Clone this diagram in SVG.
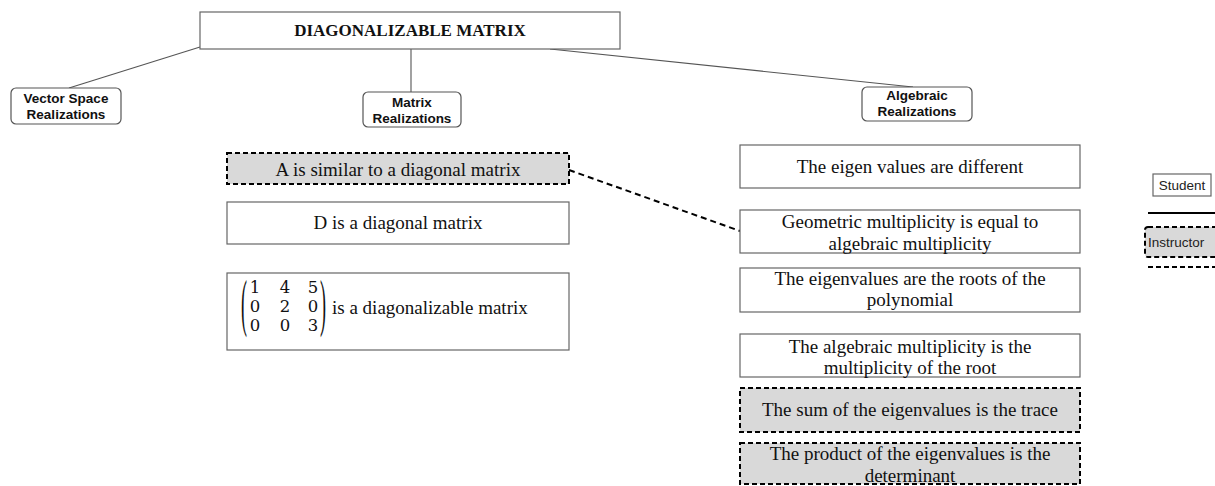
<svg xmlns="http://www.w3.org/2000/svg" width="1215" height="486" viewBox="0 0 1215 486">
<style>
.box{fill:#fff;stroke:#666;stroke-width:1.2}
.rbox{fill:#fff;stroke:#555;stroke-width:1.2}
.inst{fill:#d9d9d9;stroke:#000;stroke-width:2;stroke-dasharray:5 3}
.conn{stroke:#555;stroke-width:1.1;fill:none}
.dconn{stroke:#000;stroke-width:2;stroke-dasharray:6 4;fill:none}
.title{font-family:"Liberation Serif",serif;font-size:17px;font-weight:bold;fill:#111}
.lab{font-family:"Liberation Sans",Arial,sans-serif;font-size:13.5px;font-weight:bold;fill:#111;text-anchor:middle}
.t{font-family:"Liberation Serif","Times New Roman",serif;font-size:19px;fill:#111;text-anchor:middle}
.m{font-family:"DejaVu Serif","Liberation Serif",serif;font-size:16.5px;fill:#111;text-anchor:middle}
.p{font-family:"Liberation Serif",serif;font-size:18px;fill:#111}
.leg{font-family:"Liberation Sans",Arial,sans-serif;font-size:13.5px;fill:#222}
</style>
<rect width="1215" height="486" fill="#fff"/>
<g id="connectors">
<line class="conn" x1="200" y1="47" x2="69" y2="88"/>
<line class="conn" x1="411" y1="49" x2="411" y2="92"/>
<line class="conn" x1="550" y1="49" x2="913" y2="87"/>
<line class="dconn" x1="569" y1="170" x2="740" y2="231"/>
</g>
<g id="title">
<rect class="box" x="200" y="12" width="420" height="37"/>
<text class="title" x="410" y="36" text-anchor="middle">DIAGONALIZABLE MATRIX</text>
</g>
<g id="vector">
<rect class="rbox" x="11" y="88" width="110" height="36" rx="5"/>
<text class="lab" x="66" y="103">Vector Space</text>
<text class="lab" x="66" y="119">Realizations</text>
</g>
<g id="matrixreal">
<rect class="rbox" x="363" y="92" width="98" height="35" rx="5"/>
<text class="lab" x="412" y="107">Matrix</text>
<text class="lab" x="412" y="123">Realizations</text>
</g>
<g id="algreal">
<rect class="rbox" x="862" y="87" width="110" height="34" rx="5"/>
<text class="lab" x="917" y="100">Algebraic</text>
<text class="lab" x="917" y="116">Realizations</text>
</g>
<g id="similar">
<rect class="inst" x="227" y="153" width="342" height="31"/>
<text class="t" x="398" y="176">A is similar to a diagonal matrix</text>
</g>
<g id="diag">
<rect class="box" x="227" y="202" width="342" height="42"/>
<text class="t" x="398" y="229">D is a diagonal matrix</text>
</g>
<g id="example">
<rect class="box" x="227" y="273" width="342" height="77"/>
<text class="p" transform="translate(241,324) scale(1,3.5)">(</text>
<text class="p" transform="translate(320,324) scale(1,3.5)">)</text>
<text class="m" x="255" y="293">1</text>
<text class="m" x="285" y="293">4</text>
<text class="m" x="313" y="293">5</text>
<text class="m" x="255" y="312">0</text>
<text class="m" x="285" y="312">2</text>
<text class="m" x="313" y="312">0</text>
<text class="m" x="255" y="331">0</text>
<text class="m" x="285" y="331">0</text>
<text class="m" x="313" y="331">3</text>
<text class="t" x="332" y="314" style="text-anchor:start">is a diagonalizable matrix</text>
</g>
<g id="eigdiff">
<rect class="box" x="740" y="145" width="340" height="43"/>
<text class="t" x="910" y="173">The eigen values are different</text>
</g>
<g id="geom">
<rect class="box" x="740" y="210" width="340" height="43"/>
<text class="t" x="910" y="228">Geometric multiplicity is equal to</text>
<text class="t" x="910" y="250">algebraic multiplicity</text>
</g>
<g id="roots">
<rect class="box" x="740" y="268" width="340" height="44"/>
<text class="t" x="910" y="285">The eigenvalues are the roots of the</text>
<text class="t" x="910" y="306">polynomial</text>
</g>
<g id="algmult">
<rect class="box" x="740" y="334" width="340" height="43"/>
<text class="t" x="910" y="353">The algebraic multiplicity is the</text>
<text class="t" x="910" y="374">multiplicity of the root</text>
</g>
<g id="trace">
<rect class="inst" x="740" y="388" width="340" height="44"/>
<text class="t" x="910" y="416">The sum of the eigenvalues is the trace</text>
</g>
<g id="det">
<rect class="inst" x="740" y="443" width="340" height="41"/>
<text class="t" x="910" y="460">The product of the eigenvalues is the</text>
<text class="t" x="910" y="482">determinant</text>
</g>
<g id="legend">
<rect class="box" x="1153" y="174" width="58" height="22"/>
<text class="leg" x="1182" y="190" text-anchor="middle">Student</text>
<line x1="1148" y1="213" x2="1215" y2="213" stroke="#000" stroke-width="2"/>
<rect class="inst" x="1145" y="227" width="75" height="30" rx="3"/>
<text class="leg" x="1148" y="247">Instructor</text>
<line x1="1148" y1="267" x2="1215" y2="267" stroke="#000" stroke-width="2" stroke-dasharray="5 3"/>
</g>
</svg>
